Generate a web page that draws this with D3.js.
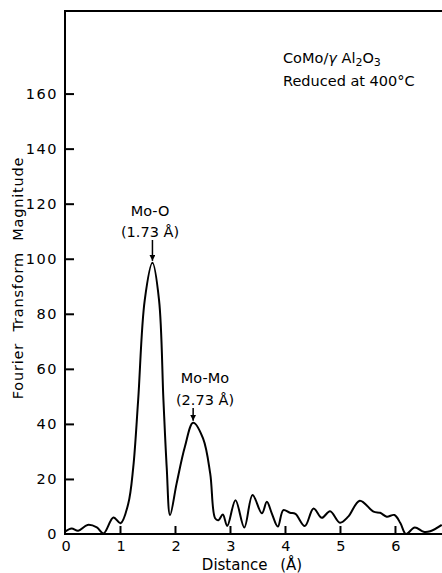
<!DOCTYPE html>
<html>
<head>
<meta charset="utf-8">
<script src="https://cdn.jsdelivr.net/npm/d3@7"></script>
<style>
  html, body { margin: 0; padding: 0; background: #fff; }
  svg text { font-family: "DejaVu Sans", Verdana, sans-serif; fill: #000; }
</style>
</head>
<body>
<div id="container"></div>
<script>
// values
var distance = [0, 0.12, 0.24, 0.41, 0.58, 0.70, 0.88, 1.01, 1.15, 1.24, 1.33, 1.45, 1.59, 1.71, 1.79, 1.85, 1.91,
    2.03, 2.18, 2.33, 2.51, 2.64, 2.73, 2.79, 2.87, 2.95, 3.10, 3.26, 3.41, 3.58, 3.67, 3.76, 3.87, 3.97,
    4.09, 4.19, 4.36, 4.52, 4.67, 4.82, 5.00, 5.15, 5.36, 5.61, 5.73, 5.85, 5.99, 6.10, 6.20, 6.36, 6.52, 6.64, 6.85];
var magnitude = [0.8, 2.0, 1.2, 3.3, 2.4, 0.2, 6.0, 3.9, 11, 24, 48.6, 85, 98.5, 85, 48.6, 24, 6.9,
    18.4, 31.7, 40.4, 34.7, 22, 5.7, 5.0, 7.1, 2.9, 12.3, 2.4, 14.2, 7.5, 11.7, 7.5, 2.7, 8.7,
    7.7, 7.3, 2.9, 9.3, 5.9, 8.3, 4.1, 6.3, 12.1, 8.1, 7.7, 6.3, 6.9, 3.9, 0, 2.4, 0.8, 1.0, 3.3];
var xTicks = [0, 1, 2, 3, 4, 5, 6];
var yTicks = [0, 20, 40, 60, 80, 100, 120, 140, 160];

var W = 442, H = 573;
var plot = { left: 65, top: 11, right: 442, bottom: 534 };

var svg = d3.select("#container").append("svg")
    .attr("width", W)
    .attr("height", H);

var x = d3.scaleLinear().domain([0, 6.855]).range([plot.left, plot.right]);
var y = d3.scaleLinear().domain([0, 190]).range([plot.bottom, plot.top]);

// frame: left, bottom, top
svg.append("path")
    .attr("d", `M ${plot.right} ${plot.top} H ${plot.left} V ${plot.bottom} H ${plot.right}`)
    .attr("fill", "none")
    .attr("stroke", "#000")
    .attr("stroke-width", 2);

// y axis ticks (inward)
var yAxis = d3.axisRight(y).tickValues(yTicks.slice(1)).tickSize(9).tickFormat("");
var gy = svg.append("g").attr("transform", `translate(${plot.left},0)`).call(yAxis);
gy.select(".domain").remove();
gy.selectAll("line").attr("stroke-width", 2);

svg.selectAll("text.ylab")
    .data(yTicks)
    .enter().append("text")
    .attr("class", "ylab")
    .attr("x", plot.left - 7)
    .attr("y", d => y(d) + 5)
    .attr("text-anchor", "end")
    .style("font-size", "14.5px")
    .style("letter-spacing", "1.5px")
    .text(d => d);

// x axis ticks (inward)
var xAxis = d3.axisTop(x).tickValues(xTicks.slice(1)).tickSize(8).tickFormat("");
var gx = svg.append("g").attr("transform", `translate(0,${plot.bottom})`).call(xAxis);
gx.select(".domain").remove();
gx.selectAll("line").attr("stroke-width", 2);

svg.selectAll("text.xlab")
    .data(xTicks)
    .enter().append("text")
    .attr("class", "xlab")
    .attr("x", d => x(d) + 1)
    .attr("y", plot.bottom + 17)
    .attr("text-anchor", "middle")
    .style("font-size", "14.5px")
    .text(d => d);

// axis titles
svg.append("text")
    .attr("transform", `translate(23,278) rotate(-90)`)
    .attr("text-anchor", "middle")
    .style("font-size", "14.5px")
    .style("letter-spacing", "0.8px")
    .style("word-spacing", "6px")
    .text("Fourier Transform Magnitude");

svg.append("text")
    .attr("x", 252)
    .attr("y", 570)
    .attr("text-anchor", "middle")
    .style("font-size", "15px")
    .style("word-spacing", "8px")
    .text("Distance (Å)");

// curve
var line = d3.line()
    .x((d, i) => x(distance[i]))
    .y(d => y(d))
    .curve(d3.curveCatmullRom.alpha(0.5));

svg.append("path")
    .datum(magnitude)
    .attr("d", line)
    .attr("fill", "none")
    .attr("stroke", "#000")
    .attr("stroke-width", 2);

// sample label
svg.append("text")
    .attr("x", 283).attr("y", 63)
    .style("font-size", "14.5px")
    .html('CoMo/<tspan font-style="italic">γ</tspan> Al<tspan dy="3" font-size="11px">2</tspan><tspan dy="-3">O</tspan><tspan dy="3" font-size="11px">3</tspan>');
svg.append("text")
    .attr("x", 283).attr("y", 86)
    .style("font-size", "14.5px")
    .text("Reduced at 400°C");

// peak annotations
var peaks = [
    { name: "Mo-O", dist: "(1.73 Å)", at: 1.59, val: 98.5, tx: 150, y1: 216, y2: 237, a0: 240 },
    { name: "Mo-Mo", dist: "(2.73 Å)", at: 2.33, val: 40.4, tx: 205, y1: 383, y2: 405, a0: 408 }
];

svg.append("defs").append("marker")
    .attr("id", "arr")
    .attr("viewBox", "0 0 10 10")
    .attr("refX", 10).attr("refY", 5)
    .attr("markerWidth", 4).attr("markerHeight", 4)
    .attr("orient", "auto")
    .append("path").attr("d", "M0,0 L10,5 L0,10 z").attr("fill", "#000");

peaks.forEach(p => {
    svg.append("text").attr("x", p.tx).attr("y", p.y1)
        .attr("text-anchor", "middle").style("font-size", "14.5px").text(p.name);
    svg.append("text").attr("x", p.tx).attr("y", p.y2)
        .attr("text-anchor", "middle").style("font-size", "14.5px").text(p.dist);
    svg.append("line")
        .attr("x1", x(p.at)).attr("x2", x(p.at))
        .attr("y1", p.a0).attr("y2", y(p.val) - 2)
        .attr("stroke", "#000").attr("stroke-width", 1.5)
        .attr("marker-end", "url(#arr)");
});
</script>
</body>
</html>
